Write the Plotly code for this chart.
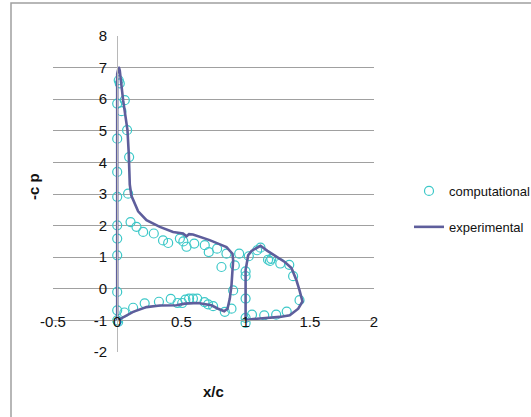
import plotly.graph_objects as go

# ---- data ----
comp_x = [0.0, 0.0, 0.0, 0.0, 0.0, 0.0, 0.0, 0.0, 0.0, 0.0, 0.007,
          0.012, 0.02, 0.059, 0.033, 0.077, 0.093, 0.085, 0.104, 0.15, 0.202,
          0.285, 0.357, 0.397, 0.488, 0.515, 0.54, 0.60, 0.682, 0.713, 0.778,
          0.851, 0.812, 0.916, 0.95, 0.903, 0.89, 0.838,
          0.056, 0.124, 0.214, 0.325, 0.417, 0.47, 0.506, 0.531, 0.56, 0.59,
          0.623, 0.68, 0.708, 0.747,
          1.025, 1.0, 1.0, 1.0, 1.0, 1.0, 1.09, 1.116, 1.175, 1.19, 1.2,
          1.27, 1.34, 1.37, 1.42, 1.32, 1.238, 1.145, 1.05]
comp_y = [-1.0, -0.68, -0.10, 1.06, 1.59, 2.01, 2.91, 3.70, 4.75, 5.86, -1.05,
          6.6, 6.5, 5.97, 5.62, 5.02, 4.17, 3.01, 2.11, 1.96, 1.80,
          1.75, 1.53, 1.45, 1.59, 1.50, 1.33, 1.43, 1.38, 1.16, 1.27,
          1.11, 0.69, 0.74, 1.11, -0.05, -0.63, -0.73,
          -0.75, -0.60, -0.46, -0.41, -0.32, -0.45, -0.45, -0.34, -0.31, -0.31,
          -0.31, -0.42, -0.49, -0.55,
          1.03, 0.55, 0.40, -0.31, -0.92, -1.08, 1.22, 1.30, 0.92, 0.88, 0.95,
          0.80, 0.76, 0.40, -0.36, -0.72, -0.82, -0.84, -0.82]

main_x = [0.0, 0.0, 0.0, 0.012, 0.02, 0.046, 0.064, 0.08, 0.09, 0.093, 0.098,
          0.11, 0.14, 0.163, 0.228, 0.332, 0.435, 0.513, 0.54, 0.56, 0.59,
          0.656, 0.72, 0.786, 0.851, 0.898, 0.903, 0.89, 0.877, 0.859, 0.833,
          0.786, 0.734, 0.63, 0.526, 0.462, 0.332, 0.228, 0.124, 0.007, 0.0]
main_y = [-1.0, 3.0, 6.8, 7.02, 6.91, 5.97, 5.54, 5.02, 4.28, 3.75, 3.3,
          2.95, 2.65, 2.45, 2.17, 1.96, 1.80, 1.75, 1.66, 1.73, 1.72,
          1.64, 1.54, 1.43, 1.32, 1.11, 0.90, 0.11, -0.31, -0.63, -0.71,
          -0.63, -0.52, -0.45, -0.47, -0.52, -0.53, -0.58, -0.73, -0.99, -1.0]

flap_x = [1.0, 1.0, 1.007, 1.02, 1.046, 1.116, 1.17, 1.24, 1.305, 1.357,
          1.396, 1.42, 1.443, 1.41, 1.344, 1.266, 1.163, 1.058, 1.007, 1.0]
flap_y = [-0.99, 0.6, 0.75, 1.06, 1.2, 1.36, 1.2, 1.02, 0.85, 0.66,
          0.27, -0.05, -0.40, -0.63, -0.84, -0.89, -0.92, -0.96, -0.99, -0.99]

exp_x = main_x + [None] + flap_x
exp_y = main_y + [None] + flap_y

x_tickvals = [-0.5, 0, 0.5, 1, 1.5, 2]
x_ticktext = ["-0.5", "0", "0.5", "1", "1.5", "2"]
y_tickvals = [-2, -1, 0, 1, 2, 3, 4, 5, 6, 7, 8]
y_ticktext = ["-2", "-1", "0", "1", "2", "3", "4", "5", "6", "7", "8"]

FONT = "Liberation Sans, Arial, sans-serif"

W, H = 531, 417
ML, MR, MT, MB = 53, 0, 36, 65
PAPER_W = W - ML - MR
PH = H - MT - MB
PLOT_W = 321  # x=-0.5 .. 2 spans px 53..374
DOM = PLOT_W / PAPER_W


def px2paper_x(px):
    return (px - ML) / PAPER_W


def px2paper_y(py):
    return (H - MB - py) / PH


fig = go.Figure()
fig.add_trace(go.Scatter(
    x=comp_x, y=comp_y, mode="markers", name="computational",
    legendgroup="a",
    marker=dict(symbol="circle-open", size=9, color="#3CC8C8",
                line=dict(width=1.2, color="#3CC8C8")),
))
fig.add_trace(go.Scatter(
    x=exp_x, y=exp_y, mode="lines", name="experimental",
    legendgroup="b", connectgaps=False,
    line=dict(color="#5E5E9C", width=2.6),
))

fig.update_layout(
    width=W, height=H,
    margin=dict(l=ML, r=MR, t=MT, b=MB, autoexpand=False),
    paper_bgcolor="white", plot_bgcolor="white",
    font=dict(family=FONT, size=15, color="#111111"),
    showlegend=True,
    legend=dict(
        x=px2paper_x(409), y=px2paper_y(176), xanchor="left", yanchor="top",
        font=dict(family=FONT, size=13, color="#111111"),
        traceorder="grouped", tracegroupgap=16,
        bgcolor="rgba(0,0,0,0)",
    ),
    xaxis=dict(
        domain=[0, DOM],
        range=[-0.5, 2], tickvals=x_tickvals, ticktext=x_ticktext,
        showgrid=False, zeroline=False,
        showline=True, linecolor="#a0a0a0", linewidth=1,
        anchor="free", position=0.1, ticks="",
        ticklabelstandoff=-12,
        tickfont=dict(family=FONT, size=15, color="#111111"),
    ),
    yaxis=dict(
        range=[-2, 8], tickvals=y_tickvals, ticktext=y_ticktext,
        showgrid=True, gridcolor="#a0a0a0", gridwidth=1, zeroline=False,
        showline=True, linecolor="#b8b8b8", linewidth=1,
        anchor="free", position=DOM * 0.5 / 2.5, ticks="",
        ticklabelstandoff=7,
        tickfont=dict(family=FONT, size=15, color="#111111"),
    ),
    shapes=[dict(
        type="rect", xref="paper", yref="paper",
        x0=px2paper_x(11), x1=px2paper_x(545),
        y0=px2paper_y(430), y1=px2paper_y(3),
        line=dict(color="#a0a0a0", width=1.5), fillcolor="rgba(0,0,0,0)",
        layer="below",
    )],
    annotations=[
        dict(text="<b>x/c</b>", xref="paper", yref="paper",
             x=px2paper_x(213.5), y=px2paper_y(391), showarrow=False,
             xanchor="center", yanchor="middle",
             font=dict(family=FONT, size=15, color="#111111")),
        dict(text="<b>-c p</b>", xref="paper", yref="paper",
             x=px2paper_x(33), y=px2paper_y(187), showarrow=False,
             xanchor="center", yanchor="middle", textangle=-90,
             font=dict(family=FONT, size=15, color="#111111")),
    ],
)

fig.write_html("out.html")
